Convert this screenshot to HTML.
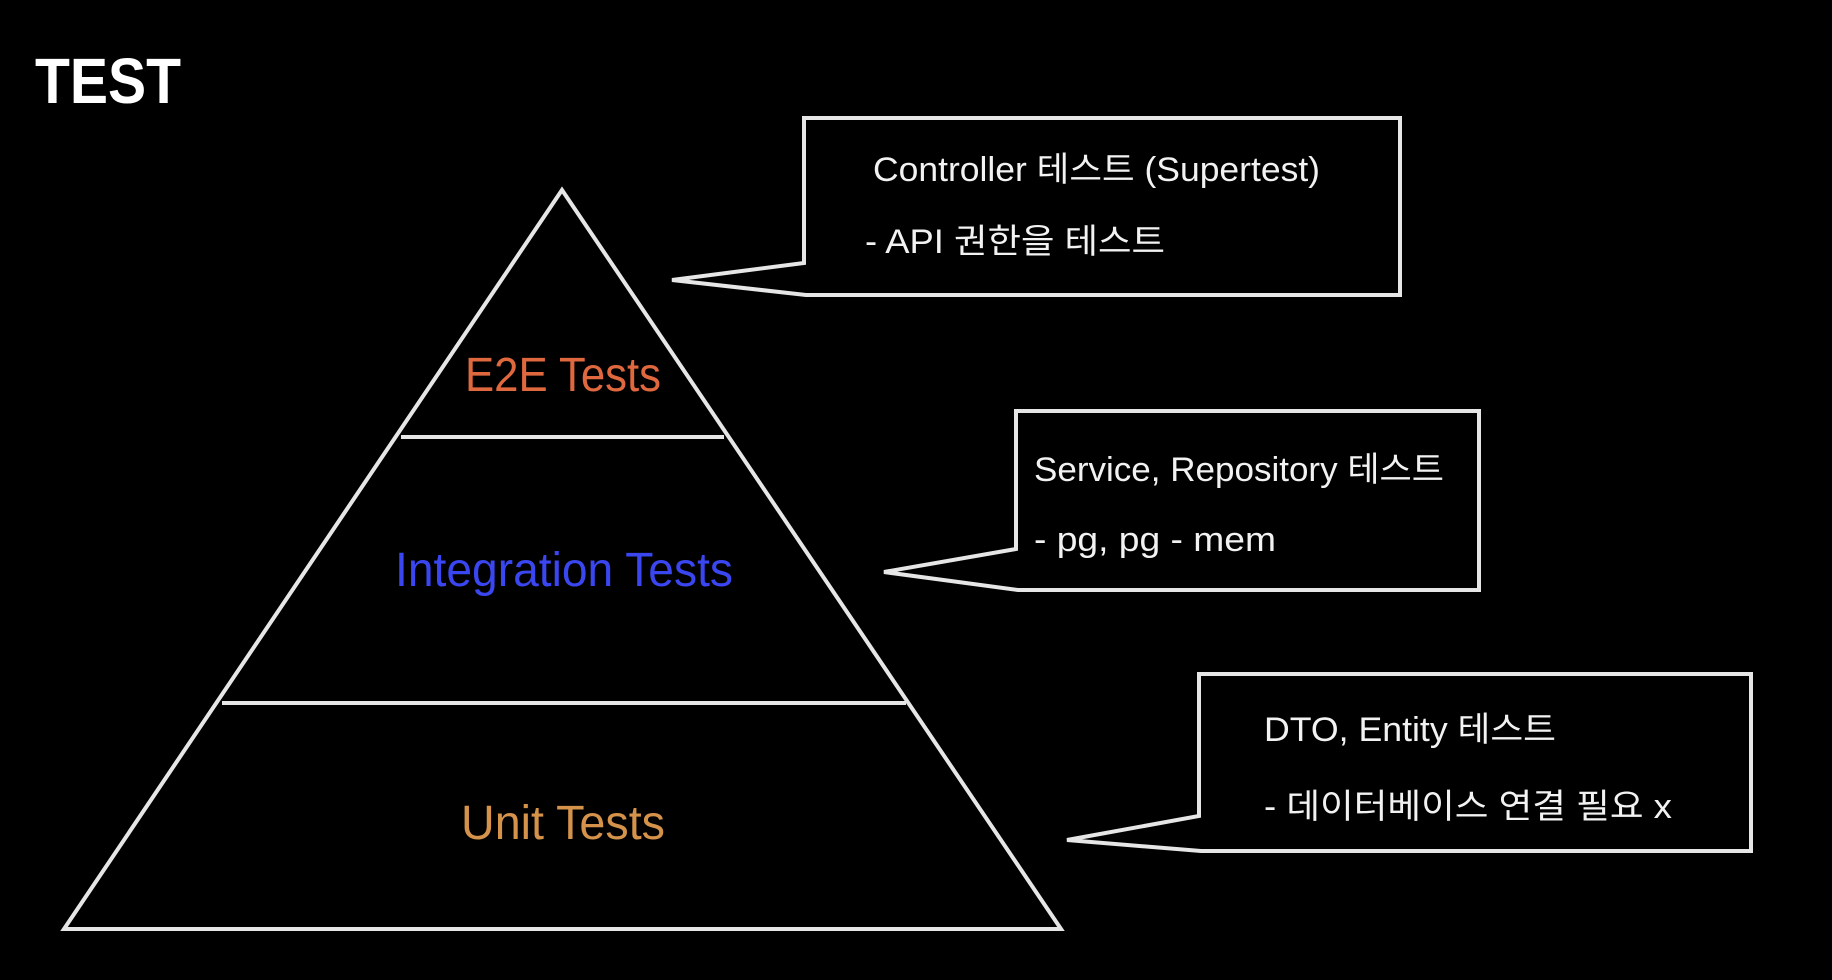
<!DOCTYPE html>
<html><head><meta charset="utf-8"><style>
html,body{margin:0;padding:0;background:#000;width:1832px;height:980px;overflow:hidden}
svg{display:block}
text{font-family:"Liberation Sans","Noto Sans CJK KR",sans-serif}
</style></head><body>
<svg width="1832" height="980" viewBox="0 0 1832 980" xmlns="http://www.w3.org/2000/svg">
<rect width="1832" height="980" fill="#000"/>
<text x="35" y="103" font-size="64" font-weight="bold" fill="#fff" textLength="146" lengthAdjust="spacingAndGlyphs">TEST</text>
<g fill="none" stroke="#e6e6e6" stroke-width="4" stroke-linejoin="miter">
<polygon points="562,190 1061,929 64,929"/>
<line x1="401" y1="437" x2="724" y2="437"/>
<line x1="222" y1="703" x2="906" y2="703"/>
<path d="M804,263 L804,118 L1400,118 L1400,295 L806,295 L672,280 Z"/>
<path d="M1016,549 L1016,411 L1479,411 L1479,590 L1018,590 L884,572 Z"/>
<path d="M1199,816 L1199,674 L1751,674 L1751,851 L1201,851 L1067,840 Z"/>
</g>
<text x="465" y="391" font-size="48" fill="#e0683e" textLength="196" lengthAdjust="spacingAndGlyphs">E2E Tests</text>
<text x="395" y="586" font-size="48" fill="#3a46f0" textLength="338" lengthAdjust="spacingAndGlyphs">Integration Tests</text>
<text x="461" y="839" font-size="48" fill="#d4924a" textLength="204" lengthAdjust="spacingAndGlyphs">Unit Tests</text>
<g fill="#f2f2f2" font-size="34">
<text x="873" y="181" textLength="447" lengthAdjust="spacingAndGlyphs">Controller 테스트 (Supertest)</text>
<text x="865" y="253" textLength="300" lengthAdjust="spacingAndGlyphs">- API 권한을 테스트</text>
<text x="1034" y="481" textLength="410" lengthAdjust="spacingAndGlyphs">Service, Repository 테스트</text>
<text x="1034" y="551" textLength="242" lengthAdjust="spacingAndGlyphs">- pg, pg - mem</text>
<text x="1264" y="741" textLength="292" lengthAdjust="spacingAndGlyphs">DTO, Entity 테스트</text>
<text x="1264" y="818" textLength="408" lengthAdjust="spacingAndGlyphs">- 데이터베이스 연결 필요 x</text>
</g>
</svg>
</body></html>
